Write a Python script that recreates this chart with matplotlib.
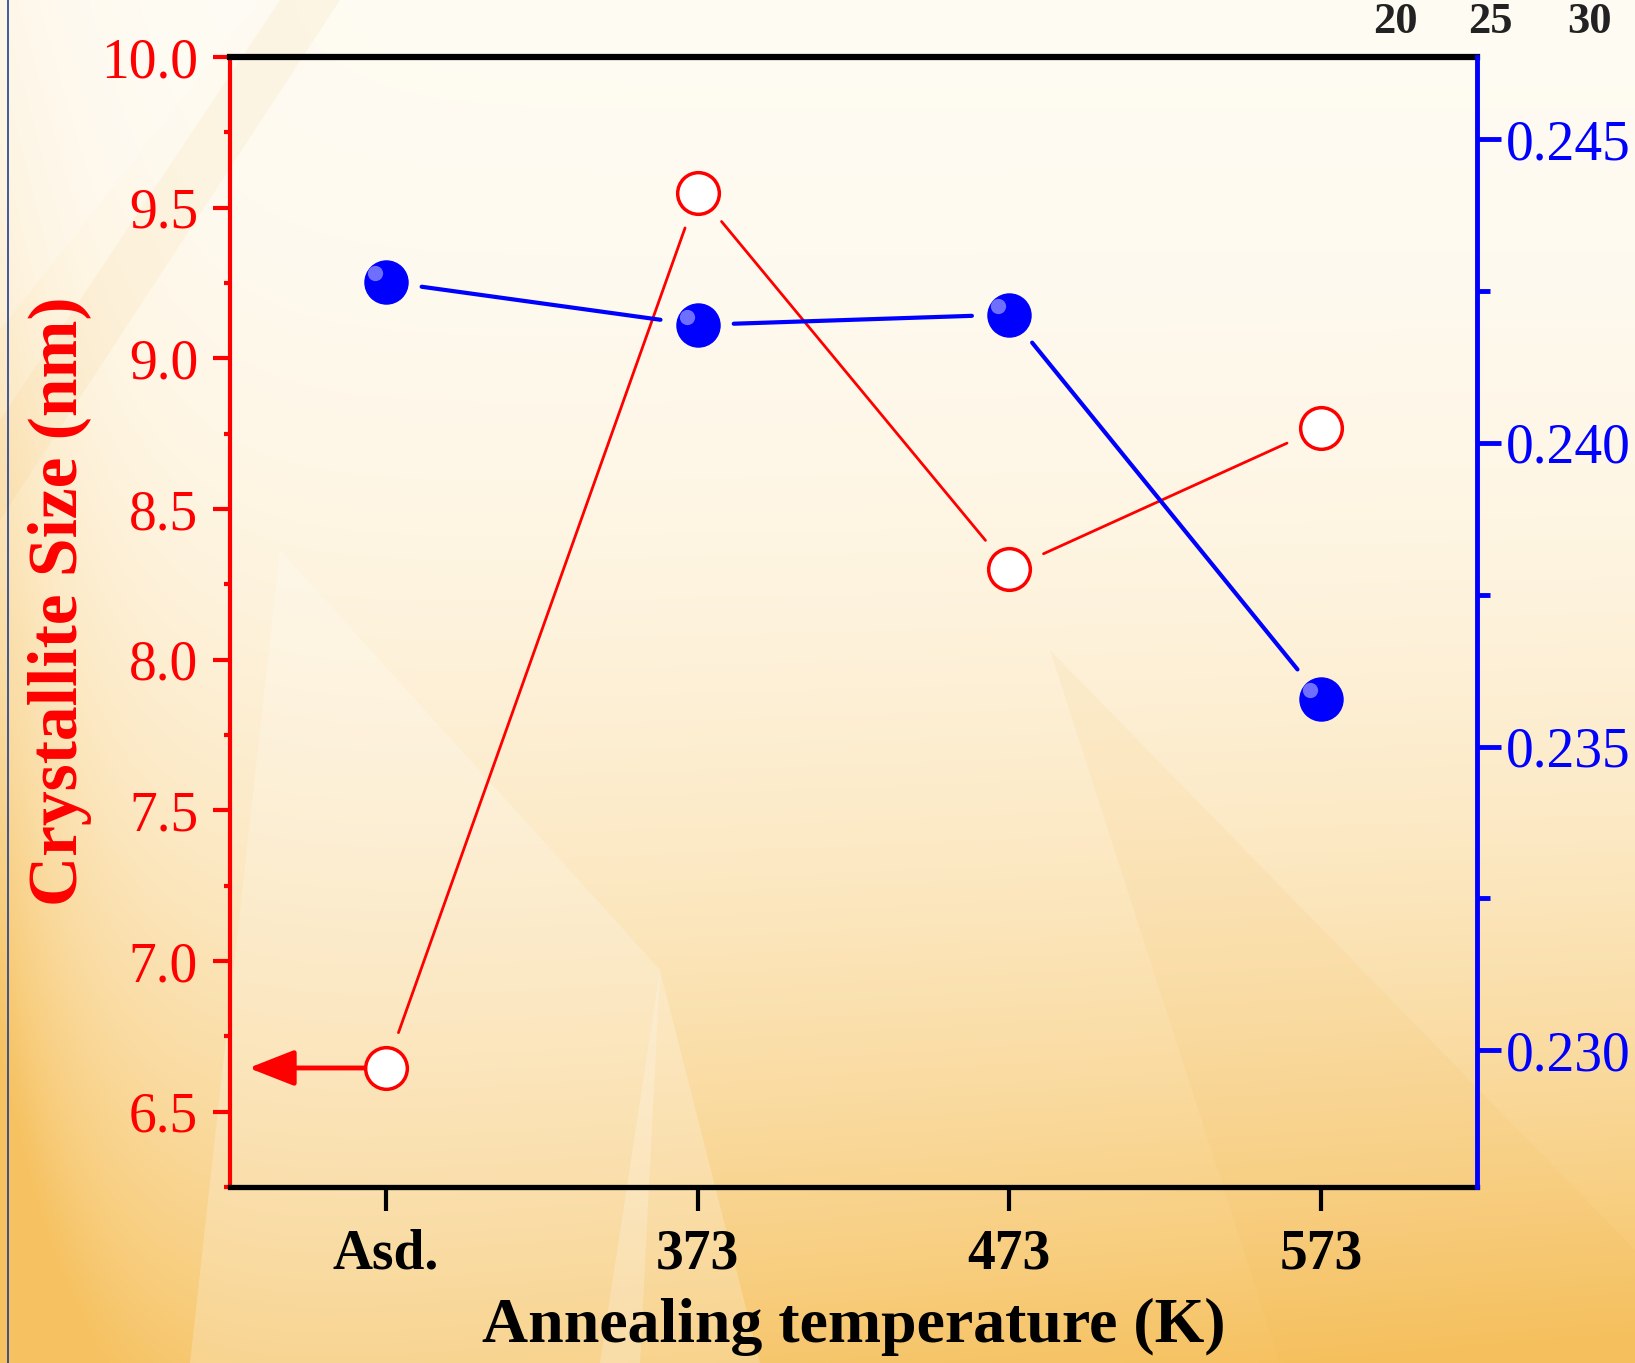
import numpy as np
import matplotlib.pyplot as plt
from matplotlib.lines import Line2D
from matplotlib.patches import Polygon
from matplotlib.ticker import MultipleLocator, FormatStrFormatter
from matplotlib.transforms import ScaledTranslation

plt.rcParams['font.family'] = ['Liberation Serif', 'DejaVu Serif']

# data
categories = ['Asd.', '373', '473', '573']
crystallite_size = [6.645, 9.55, 8.30, 8.77]          # nm, left (red) axis
right_values = [0.24265, 0.24194, 0.24211, 0.23579]    # right (blue) axis
left_ticks = [6.5, 7.0, 7.5, 8.0, 8.5, 9.0, 9.5, 10.0]
right_ticks = [0.230, 0.235, 0.240, 0.245]
top_labels = ['20', '25', '30']   # leftover labels of a neighbouring plot

W, H = 1635, 1363
fig = plt.figure(figsize=(W / 100, H / 100), dpi=100)

# orange / cream gradient background
bg = fig.add_axes([0, 0, 1, 1], zorder=-10)
bg.axis('off')
yy, xx = np.mgrid[0:1:300j, 0:1:360j]
t = 0.8 * yy ** 2.2 + 0.55 * np.exp(-xx / 0.05) * (0.2 + yy) + 0.25 * xx * yy ** 3
t = np.clip(t, 0, 1)
light = np.array([1.0, 0.985, 0.95])
dark = np.array([0.965, 0.76, 0.38])
img = light + (dark - light) * t[..., None]
bg.imshow(img, extent=[0, 1, 0, 1], aspect='auto', origin='upper', interpolation='bilinear')
bg.set_xlim(0, 1)
bg.set_ylim(0, 1)

def px(pts):
    return [(x / W, 1 - y / H) for x, y in pts]

# faint light rays
rays_light = [
    [(280, 550), (660, 970), (640, 1363), (190, 1363)],
    [(660, 970), (760, 1363), (600, 1363)],
    [(0, 0), (260, 0), (0, 330)],
]
rays_dark = [
    [(280, 0), (340, 0), (0, 520), (0, 420)],
    [(1050, 650), (1635, 1250), (1635, 1363), (1280, 1363)],
]
for p in rays_light:
    bg.add_patch(Polygon(px(p), closed=True, fc='white', ec='none', alpha=0.22))
for p in rays_dark:
    bg.add_patch(Polygon(px(p), closed=True, fc='#f0b040', ec='none', alpha=0.08))

# main axes
ax = fig.add_axes([230 / W, 1 - 1187 / H, (1477 - 230) / W, (1187 - 57) / H])
ax.patch.set_visible(False)
x = np.arange(len(categories))
ax.set_xlim(-0.5, 3.5)
ax.set_ylim(6.25, 10.0)

ax2 = ax.twinx()
ax2.patch.set_visible(False)
ax2.set_ylim(0.22775, 0.24635)

# red series: open circles, lines with a gap around the symbols
ax.plot(x, crystallite_size, 'o', ms=30, mfc='white', mec='red', mew=2.5, zorder=5)
for i in range(len(x) - 1):
    ax.annotate('', xy=(x[i + 1], crystallite_size[i + 1]), xytext=(x[i], crystallite_size[i]),
                arrowprops=dict(arrowstyle='-', color='red', lw=2, shrinkA=27, shrinkB=27))
ax.annotate('', xy=(-0.44, crystallite_size[0]), xytext=(x[0], crystallite_size[0]),
            arrowprops=dict(arrowstyle='-|>,head_length=1.4,head_width=0.55', mutation_scale=20,
                            color='red', lw=3.5, shrinkA=14, shrinkB=0))

# blue series: filled circles
ax2.plot(x, right_values, 'o', ms=31, color='blue', mec='blue', zorder=5)
ax2.plot(x, right_values, 'o', ms=11, color='#6f6fff', mec='none', zorder=6,
         transform=ax2.transData + ScaledTranslation(-8 / 72, 6 / 72, fig.dpi_scale_trans))
for i in range(len(x) - 1):
    ax2.annotate('', xy=(x[i + 1], right_values[i + 1]), xytext=(x[i], right_values[i]),
                 arrowprops=dict(arrowstyle='-', color='blue', lw=3, shrinkA=26, shrinkB=27))

# spines
ax.spines['left'].set_color('red')
ax.spines['left'].set_linewidth(3)
ax.spines['top'].set_color('black')
ax.spines['top'].set_linewidth(4.5)
ax.spines['bottom'].set_color('black')
ax.spines['bottom'].set_linewidth(3.8)
ax.spines['right'].set_visible(False)
for s in ['left', 'top', 'bottom']:
    ax2.spines[s].set_visible(False)
ax2.spines['right'].set_color('blue')
ax2.spines['right'].set_linewidth(3.5)

# ticks
ax.set_xticks(x)
ax.set_xticklabels(categories, fontweight='bold')
ax.tick_params(axis='x', direction='out', length=17, width=3, colors='black',
               labelsize=40, pad=13, top=False)
ax.set_yticks(left_ticks)
ax.yaxis.set_major_formatter(FormatStrFormatter('%.1f'))
ax.yaxis.set_minor_locator(MultipleLocator(0.25))
ax.tick_params(axis='y', which='major', direction='out', length=12, width=3,
               colors='red', labelsize=40, pad=11)
ax.tick_params(axis='y', which='minor', direction='out', length=4, width=3, colors='red')

ax2.set_yticks(right_ticks)
ax2.yaxis.set_major_formatter(FormatStrFormatter('%.3f'))
ax2.yaxis.set_minor_locator(MultipleLocator(0.0025))
ax2.tick_params(axis='y', which='major', direction='out', length=17, width=3.5,
                colors='blue', labelsize=40, pad=4)
ax2.tick_params(axis='y', which='minor', direction='out', length=9, width=3.5, colors='blue')

# axis labels
ax.set_xlabel('Annealing temperature (K)', fontsize=46, fontweight='bold', color='black')
ax.xaxis.set_label_coords(0.5, -0.098)
ax.set_ylabel('Crystallite Size (nm)', fontsize=50, fontweight='bold', color='red', va='center')
ax.yaxis.set_label_coords(-0.136, 0.518)

# labels of a neighbouring plot at the top right
for lab, xp in zip(top_labels, [1395, 1490, 1589]):
    fig.text(xp / W, 1 - 2 / H, lab, ha='center', va='top', fontsize=32,
             color='#222222', fontweight='bold')

# thin frame line at left edge
fig.add_artist(Line2D([8 / W, 8 / W], [0, 1], color='#1f3f8f', lw=1.2))

fig.savefig('out.png', dpi=100)
